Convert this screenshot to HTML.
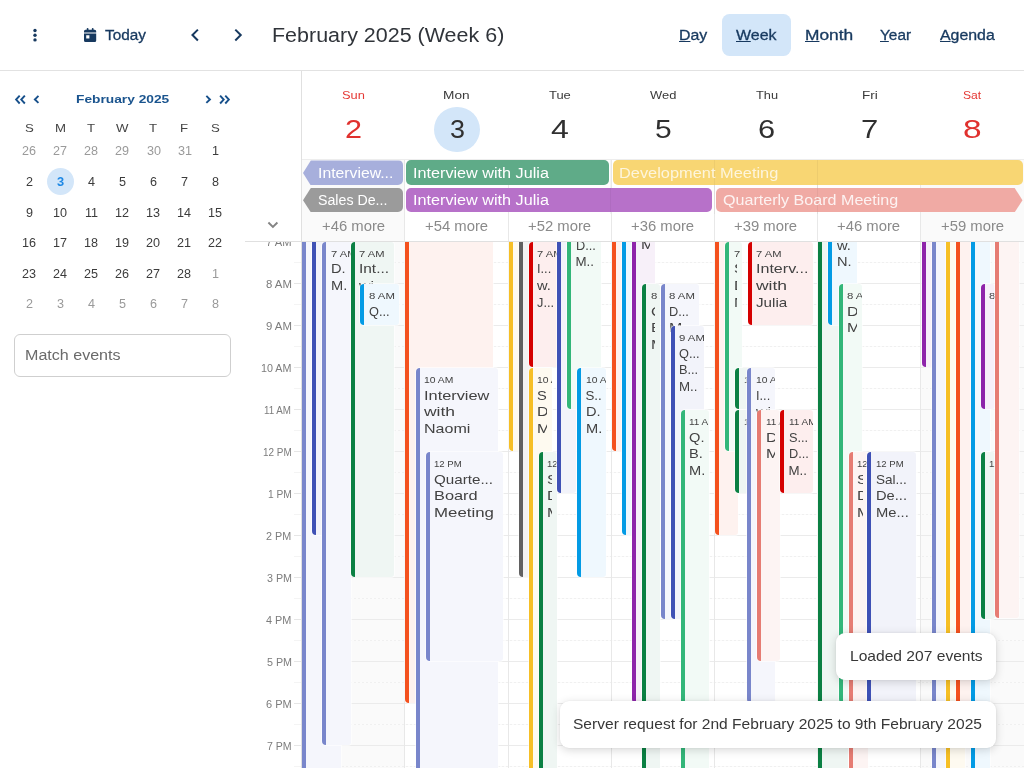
<!DOCTYPE html>
<html lang="en">
<head>
<meta charset="utf-8">
<title>Calendar</title>
<style>
*{box-sizing:border-box;margin:0;padding:0}
html,body{width:1024px;height:768px;overflow:hidden;background:#fff}
body{font-family:"Liberation Sans",sans-serif;color:#333;position:relative}
#root{position:absolute;left:0;top:0;width:1024px;height:768px;overflow:hidden;will-change:transform}
.abs{position:absolute}
.tx{position:absolute;white-space:nowrap;transform-origin:0 50%;display:block}
.tx u{text-decoration-thickness:1px;text-underline-offset:1.4px}
/* toolbar */
#tb{position:absolute;left:0;top:0;width:1024px;height:71px;border-bottom:1px solid #e2e2e2;background:#fff}
#weekpill{position:absolute;left:722px;top:14px;width:69.3px;height:41.8px;border-radius:7.5px;background:#d3e6f9}
/* sidebar */
#match{position:absolute;left:14px;top:334px;width:217px;height:42.5px;border:1px solid #cfcfcf;border-radius:6px}
/* all-day */
.ad{position:absolute;height:24.3px;border-radius:5px}
/* grid */
#grid{position:absolute;left:0;top:242px;width:1024px;height:526px;overflow:hidden}
#gridin{position:absolute;left:0;top:-242px;width:1024px;height:1100px}
.hl{position:absolute;left:302px;width:722px;height:1px;background:#ebebeb}
.hl.half{background:repeating-linear-gradient(90deg,#f0f0f0 0 2px,#fbfbfb 2px 4px)}
.vl{position:absolute;width:1px;background:#e8e8e8}
.tick{position:absolute;left:294px;width:7px;height:1px;background:#e6e6e6}
.shade{position:absolute;background:#fafafa}
.ev{position:absolute;border-left:4px solid #000;overflow:hidden;box-shadow:0 0 0 1px rgba(255,255,255,.6)}
.nm{position:absolute;left:0;top:0;bottom:0;right:4.75px;overflow:hidden}
.toast{position:absolute;background:#fff;border-radius:9px;box-shadow:0 2px 10px rgba(0,0,0,.16),0 0 2px rgba(0,0,0,.08)}
</style>
</head>
<body>
<div id="root">

<!-- shading for weekend columns -->
<div class="shade" style="left:302px;top:159px;width:103px;height:609px"></div>
<div class="shade" style="left:920px;top:159px;width:104px;height:609px"></div>

<!-- scrolling grid -->
<div id="grid"><div id="gridin">
<div class="hl half" style="top:262px"></div>
<div class="hl" style="top:283px"></div>
<div class="hl half" style="top:304px"></div>
<div class="hl" style="top:325px"></div>
<div class="hl half" style="top:346px"></div>
<div class="hl" style="top:367px"></div>
<div class="hl half" style="top:388px"></div>
<div class="hl" style="top:409px"></div>
<div class="hl half" style="top:430px"></div>
<div class="hl" style="top:451px"></div>
<div class="hl half" style="top:472px"></div>
<div class="hl" style="top:493px"></div>
<div class="hl half" style="top:514px"></div>
<div class="hl" style="top:535px"></div>
<div class="hl half" style="top:556px"></div>
<div class="hl" style="top:577px"></div>
<div class="hl half" style="top:598px"></div>
<div class="hl" style="top:619px"></div>
<div class="hl half" style="top:640px"></div>
<div class="hl" style="top:661px"></div>
<div class="hl half" style="top:682px"></div>
<div class="hl" style="top:703px"></div>
<div class="hl half" style="top:724px"></div>
<div class="hl" style="top:745px"></div>
<div class="hl half" style="top:766px"></div>
<div class="vl" style="left:404px;top:242px;height:700px"></div>
<div class="vl" style="left:508px;top:242px;height:700px"></div>
<div class="vl" style="left:611px;top:242px;height:700px"></div>
<div class="vl" style="left:714px;top:242px;height:700px"></div>
<div class="vl" style="left:817px;top:242px;height:700px"></div>
<div class="vl" style="left:920px;top:242px;height:700px"></div>
<div class="ev" style="left:302px;top:200px;width:39px;height:600px;border-left-color:#7986cb;background:#f5f6fc;border-radius:0px 3px 3px 0px"></div>
<div class="ev" style="left:312px;top:200px;width:39px;height:335px;border-left-color:#3f51b5;background:#f2f3fa;border-radius:0px 3px 3px 4px"></div>
<div class="ev" style="left:322px;top:242px;width:29px;height:503px;border-left-color:#7986cb;background:#f5f6fc;border-radius:4px 3px 3px 4px"><span class="tx" style="left:4.74px;top:6.00px;font-size:9.8px;line-height:11.76px;transform:scaleX(1.1404);color:#424242">7 AM</span><div class="nm"><span class="tx" style="left:4.50px;top:19.00px;font-size:13.3px;line-height:15.96px;transform:scaleX(1.1000);color:#424242">D.</span><span class="tx" style="left:4.50px;top:36.00px;font-size:13.3px;line-height:15.96px;transform:scaleX(1.1000);color:#424242">M.</span></div></div>
<div class="ev" style="left:350.5px;top:242px;width:43.5px;height:335px;border-left-color:#0b8043;background:#eff6f3;border-radius:4px 3px 3px 4px"><span class="tx" style="left:4.74px;top:6.00px;font-size:9.8px;line-height:11.76px;transform:scaleX(1.1404);color:#424242">7 AM</span><div class="nm"><span class="tx" style="left:4.50px;top:19.00px;font-size:13.3px;line-height:15.96px;transform:scaleX(1.1608);color:#424242">Int...</span><span class="tx" style="left:4.50px;top:36.00px;font-size:13.3px;line-height:15.96px;transform:scaleX(1.2000);color:#424242">wi</span></div></div>
<div class="ev" style="left:360px;top:284px;width:39px;height:41px;border-left-color:#039be5;background:#eff8fe;border-radius:4px 3px 3px 4px"><span class="tx" style="left:4.82px;top:6.00px;font-size:9.8px;line-height:11.76px;transform:scaleX(1.1601);color:#424242">8 AM</span><div class="nm"><span class="tx" style="left:4.50px;top:20.00px;font-size:13.3px;line-height:15.96px;transform:scaleX(0.9600);color:#424242">Q...</span></div></div>
<div class="ev" style="left:405px;top:200px;width:87.5px;height:503px;border-left-color:#f4511e;background:#fef2ef;border-radius:0px 3px 3px 4px"></div>
<div class="ev" style="left:415.5px;top:368px;width:82px;height:432px;border-left-color:#7986cb;background:#f5f6fc;border-radius:4px 3px 3px 0px"><span class="tx" style="left:4.52px;top:6.00px;font-size:9.8px;line-height:11.76px;transform:scaleX(1.0566);color:#424242">10 AM</span><div class="nm"><span class="tx" style="left:4.50px;top:20.00px;font-size:13.3px;line-height:15.96px;transform:scaleX(1.2291);color:#424242">Interview</span><span class="tx" style="left:4.50px;top:36.00px;font-size:13.3px;line-height:15.96px;transform:scaleX(1.3133);color:#424242">with</span><span class="tx" style="left:4.50px;top:53.00px;font-size:13.3px;line-height:15.96px;transform:scaleX(1.2063);color:#424242">Naomi</span></div></div>
<div class="ev" style="left:425.5px;top:452px;width:77px;height:209px;border-left-color:#7986cb;background:#f5f6fc;border-radius:4px 3px 3px 4px"><span class="tx" style="left:4.58px;top:6.00px;font-size:9.8px;line-height:11.76px;transform:scaleX(0.9794);color:#424242">12 PM</span><div class="nm"><span class="tx" style="left:4.50px;top:20.00px;font-size:13.3px;line-height:15.96px;transform:scaleX(1.1413);color:#424242">Quarte...</span><span class="tx" style="left:4.50px;top:36.00px;font-size:13.3px;line-height:15.96px;transform:scaleX(1.2283);color:#424242">Board</span><span class="tx" style="left:4.50px;top:53.00px;font-size:13.3px;line-height:15.96px;transform:scaleX(1.2660);color:#424242">Meeting</span></div></div>
<div class="ev" style="left:508.5px;top:200px;width:38.5px;height:250.5px;border-left-color:#f6bf26;background:#fefaf0;border-radius:0px 3px 3px 4px"></div>
<div class="ev" style="left:518.5px;top:200px;width:33.5px;height:377px;border-left-color:#616161;background:#f3f3f3;border-radius:0px 3px 3px 4px"></div>
<div class="ev" style="left:528.5px;top:242px;width:33.5px;height:125px;border-left-color:#d50000;background:#fdeeee;border-radius:4px 3px 3px 4px"><span class="tx" style="left:4.74px;top:6.00px;font-size:9.8px;line-height:11.76px;transform:scaleX(1.1404);color:#424242">7 AM</span><div class="nm"><span class="tx" style="left:4.50px;top:19.00px;font-size:13.3px;line-height:15.96px;transform:scaleX(0.9600);color:#424242">I...</span><span class="tx" style="left:4.50px;top:36.00px;font-size:13.3px;line-height:15.96px;transform:scaleX(1.1000);color:#424242">w.</span><span class="tx" style="left:4.50px;top:53.00px;font-size:13.3px;line-height:15.96px;transform:scaleX(0.9600);color:#424242">J...</span></div></div>
<div class="ev" style="left:528.5px;top:368px;width:23.5px;height:432px;border-left-color:#f6bf26;background:#fefaf0;border-radius:4px 3px 3px 0px"><span class="tx" style="left:4.52px;top:6.00px;font-size:9.8px;line-height:11.76px;transform:scaleX(1.0566);color:#424242">10 AM</span><div class="nm"><span class="tx" style="left:4.50px;top:20.00px;font-size:13.3px;line-height:15.96px;transform:scaleX(1.1000);color:#424242">S.</span><span class="tx" style="left:4.50px;top:36.00px;font-size:13.3px;line-height:15.96px;transform:scaleX(1.2000);color:#424242">D</span><span class="tx" style="left:4.50px;top:53.00px;font-size:13.3px;line-height:15.96px;transform:scaleX(1.2000);color:#424242">M</span></div></div>
<div class="ev" style="left:538.5px;top:452px;width:18.5px;height:348px;border-left-color:#0b8043;background:#eff6f3;border-radius:4px 3px 3px 0px"><span class="tx" style="left:4.58px;top:6.00px;font-size:9.8px;line-height:11.76px;transform:scaleX(0.9794);color:#424242">12 PM</span><div class="nm"><span class="tx" style="left:4.50px;top:20.00px;font-size:13.3px;line-height:15.96px;transform:scaleX(1.2000);color:#424242">S</span><span class="tx" style="left:4.50px;top:36.00px;font-size:13.3px;line-height:15.96px;transform:scaleX(1.2000);color:#424242">D</span><span class="tx" style="left:4.50px;top:53.00px;font-size:13.3px;line-height:15.96px;transform:scaleX(1.2000);color:#424242">M</span></div></div>
<div class="ev" style="left:557px;top:200px;width:19px;height:293px;border-left-color:#3f51b5;background:#f2f3fa;border-radius:0px 3px 3px 4px"></div>
<div class="ev" style="left:567px;top:200px;width:34px;height:209px;border-left-color:#33b679;background:#f2faf6;border-radius:0px 3px 3px 4px"><span class="tx" style="left:4.73px;top:8.00px;font-size:9.8px;line-height:11.76px;transform:scaleX(1.1641);color:#424242">6 AM</span><div class="nm"><span class="tx" style="left:4.50px;top:21.00px;font-size:13.3px;line-height:15.96px;transform:scaleX(0.9600);color:#424242">S...</span><span class="tx" style="left:4.50px;top:38.00px;font-size:13.3px;line-height:15.96px;transform:scaleX(0.9600);color:#424242">D...</span><span class="tx" style="left:4.50px;top:54.00px;font-size:13.3px;line-height:15.96px;transform:scaleX(1.0000);color:#424242">M..</span></div></div>
<div class="ev" style="left:577px;top:368px;width:29px;height:209px;border-left-color:#039be5;background:#eff8fe;border-radius:4px 3px 3px 4px"><span class="tx" style="left:4.52px;top:6.00px;font-size:9.8px;line-height:11.76px;transform:scaleX(1.0566);color:#424242">10 AM</span><div class="nm"><span class="tx" style="left:4.50px;top:20.00px;font-size:13.3px;line-height:15.96px;transform:scaleX(1.0000);color:#424242">S..</span><span class="tx" style="left:4.50px;top:36.00px;font-size:13.3px;line-height:15.96px;transform:scaleX(1.1000);color:#424242">D.</span><span class="tx" style="left:4.50px;top:53.00px;font-size:13.3px;line-height:15.96px;transform:scaleX(1.1000);color:#424242">M.</span></div></div>
<div class="ev" style="left:612px;top:200px;width:28px;height:250.5px;border-left-color:#f4511e;background:#fef2ef;border-radius:0px 3px 3px 4px"></div>
<div class="ev" style="left:622px;top:200px;width:23px;height:335px;border-left-color:#039be5;background:#eff8fe;border-radius:0px 3px 3px 4px"></div>
<div class="ev" style="left:632px;top:200px;width:23px;height:503px;border-left-color:#8e24aa;background:#f7f0f9;border-radius:0px 3px 3px 4px"><span class="tx" style="left:4.73px;top:7.00px;font-size:9.8px;line-height:11.76px;transform:scaleX(1.1641);color:#424242">6 AM</span><div class="nm"><span class="tx" style="left:4.50px;top:20.00px;font-size:13.3px;line-height:15.96px;transform:scaleX(1.2000);color:#424242">D</span><span class="tx" style="left:4.50px;top:37.00px;font-size:13.3px;line-height:15.96px;transform:scaleX(1.2000);color:#424242">M</span></div></div>
<div class="ev" style="left:642px;top:284px;width:18px;height:516px;border-left-color:#0b8043;background:#eff6f3;border-radius:4px 3px 3px 0px"><span class="tx" style="left:4.82px;top:6.00px;font-size:9.8px;line-height:11.76px;transform:scaleX(1.1601);color:#424242">8 AM</span><div class="nm"><span class="tx" style="left:4.50px;top:20.00px;font-size:13.3px;line-height:15.96px;transform:scaleX(1.2000);color:#424242">Q</span><span class="tx" style="left:4.50px;top:36.00px;font-size:13.3px;line-height:15.96px;transform:scaleX(1.2000);color:#424242">B</span><span class="tx" style="left:4.50px;top:53.00px;font-size:13.3px;line-height:15.96px;transform:scaleX(1.2000);color:#424242">M</span></div></div>
<div class="ev" style="left:660.5px;top:284px;width:38.5px;height:335px;border-left-color:#7986cb;background:#f5f6fc;border-radius:4px 3px 3px 4px"><span class="tx" style="left:4.82px;top:6.00px;font-size:9.8px;line-height:11.76px;transform:scaleX(1.1601);color:#424242">8 AM</span><div class="nm"><span class="tx" style="left:4.50px;top:20.00px;font-size:13.3px;line-height:15.96px;transform:scaleX(0.9600);color:#424242">D...</span><span class="tx" style="left:4.50px;top:36.00px;font-size:13.3px;line-height:15.96px;transform:scaleX(1.2000);color:#424242">M</span></div></div>
<div class="ev" style="left:670.5px;top:326px;width:33.5px;height:293px;border-left-color:#3f51b5;background:#f2f3fa;border-radius:4px 3px 3px 4px"><span class="tx" style="left:4.79px;top:6.00px;font-size:9.8px;line-height:11.76px;transform:scaleX(1.1614);color:#424242">9 AM</span><div class="nm"><span class="tx" style="left:4.50px;top:20.00px;font-size:13.3px;line-height:15.96px;transform:scaleX(0.9600);color:#424242">Q...</span><span class="tx" style="left:4.50px;top:36.00px;font-size:13.3px;line-height:15.96px;transform:scaleX(0.9600);color:#424242">B...</span><span class="tx" style="left:4.50px;top:53.00px;font-size:13.3px;line-height:15.96px;transform:scaleX(1.0000);color:#424242">M..</span></div></div>
<div class="ev" style="left:680.5px;top:410px;width:28.5px;height:390px;border-left-color:#33b679;background:#f2faf6;border-radius:4px 3px 3px 0px"><span class="tx" style="left:4.55px;top:6.00px;font-size:9.8px;line-height:11.76px;transform:scaleX(1.0184);color:#424242">11 AM</span><div class="nm"><span class="tx" style="left:4.50px;top:20.00px;font-size:13.3px;line-height:15.96px;transform:scaleX(1.1000);color:#424242">Q.</span><span class="tx" style="left:4.50px;top:36.00px;font-size:13.3px;line-height:15.96px;transform:scaleX(1.1000);color:#424242">B.</span><span class="tx" style="left:4.50px;top:53.00px;font-size:13.3px;line-height:15.96px;transform:scaleX(1.1000);color:#424242">M.</span></div></div>
<div class="ev" style="left:715px;top:200px;width:22.5px;height:335px;border-left-color:#f4511e;background:#fef2ef;border-radius:0px 3px 3px 4px"></div>
<div class="ev" style="left:725px;top:242px;width:17px;height:208.5px;border-left-color:#33b679;background:#f2faf6;border-radius:4px 3px 3px 4px"><span class="tx" style="left:4.74px;top:6.00px;font-size:9.8px;line-height:11.76px;transform:scaleX(1.1404);color:#424242">7 AM</span><div class="nm"><span class="tx" style="left:4.50px;top:19.00px;font-size:13.3px;line-height:15.96px;transform:scaleX(1.2000);color:#424242">S</span><span class="tx" style="left:4.50px;top:36.00px;font-size:13.3px;line-height:15.96px;transform:scaleX(1.2000);color:#424242">D</span><span class="tx" style="left:4.50px;top:53.00px;font-size:13.3px;line-height:15.96px;transform:scaleX(1.2000);color:#424242">M</span></div></div>
<div class="ev" style="left:735px;top:368px;width:17px;height:41px;border-left-color:#0b8043;background:#eff6f3;border-radius:4px 3px 3px 4px"><span class="tx" style="left:4.52px;top:6.00px;font-size:9.8px;line-height:11.76px;transform:scaleX(1.0566);color:#424242">10 AM</span></div>
<div class="ev" style="left:735px;top:410px;width:17px;height:82.5px;border-left-color:#0b8043;background:#eff6f3;border-radius:4px 3px 3px 4px"><span class="tx" style="left:4.55px;top:6.00px;font-size:9.8px;line-height:11.76px;transform:scaleX(1.0184);color:#424242">11 AM</span></div>
<div class="ev" style="left:747.5px;top:242px;width:65px;height:83px;border-left-color:#d50000;background:#fdeeee;border-radius:4px 3px 3px 4px"><span class="tx" style="left:4.74px;top:6.00px;font-size:9.8px;line-height:11.76px;transform:scaleX(1.1404);color:#424242">7 AM</span><div class="nm"><span class="tx" style="left:4.50px;top:19.00px;font-size:13.3px;line-height:15.96px;transform:scaleX(1.2084);color:#424242">Interv...</span><span class="tx" style="left:4.50px;top:36.00px;font-size:13.3px;line-height:15.96px;transform:scaleX(1.3133);color:#424242">with</span><span class="tx" style="left:4.50px;top:53.00px;font-size:13.3px;line-height:15.96px;transform:scaleX(1.1412);color:#424242">Julia</span></div></div>
<div class="ev" style="left:747px;top:368px;width:28px;height:335px;border-left-color:#7986cb;background:#f5f6fc;border-radius:4px 3px 3px 4px"><span class="tx" style="left:4.52px;top:6.00px;font-size:9.8px;line-height:11.76px;transform:scaleX(1.0566);color:#424242">10 AM</span><div class="nm"><span class="tx" style="left:4.50px;top:20.00px;font-size:13.3px;line-height:15.96px;transform:scaleX(0.9600);color:#424242">I...</span><span class="tx" style="left:4.50px;top:36.00px;font-size:13.3px;line-height:15.96px;transform:scaleX(1.2000);color:#424242">wi</span></div></div>
<div class="ev" style="left:757px;top:410px;width:23px;height:251px;border-left-color:#e67c73;background:#fdf4f3;border-radius:4px 3px 3px 4px"><span class="tx" style="left:4.55px;top:6.00px;font-size:9.8px;line-height:11.76px;transform:scaleX(1.0184);color:#424242">11 AM</span><div class="nm"><span class="tx" style="left:4.50px;top:20.00px;font-size:13.3px;line-height:15.96px;transform:scaleX(1.2000);color:#424242">D</span><span class="tx" style="left:4.50px;top:36.00px;font-size:13.3px;line-height:15.96px;transform:scaleX(1.2000);color:#424242">M</span></div></div>
<div class="ev" style="left:780px;top:410px;width:32.5px;height:82.5px;border-left-color:#d50000;background:#fdeeee;border-radius:4px 3px 3px 4px"><span class="tx" style="left:4.55px;top:6.00px;font-size:9.8px;line-height:11.76px;transform:scaleX(1.0184);color:#424242">11 AM</span><div class="nm"><span class="tx" style="left:4.50px;top:20.00px;font-size:13.3px;line-height:15.96px;transform:scaleX(0.9600);color:#424242">S...</span><span class="tx" style="left:4.50px;top:36.00px;font-size:13.3px;line-height:15.96px;transform:scaleX(0.9600);color:#424242">D...</span><span class="tx" style="left:4.50px;top:53.00px;font-size:13.3px;line-height:15.96px;transform:scaleX(1.0000);color:#424242">M..</span></div></div>
<div class="ev" style="left:818px;top:200px;width:30px;height:600px;border-left-color:#0b8043;background:#eff6f3;border-radius:0px 3px 3px 0px"></div>
<div class="ev" style="left:828px;top:200px;width:29px;height:125px;border-left-color:#039be5;background:#eff8fe;border-radius:0px 3px 3px 4px"><span class="tx" style="left:4.73px;top:8.00px;font-size:9.8px;line-height:11.76px;transform:scaleX(1.1641);color:#424242">6 AM</span><div class="nm"><span class="tx" style="left:4.50px;top:21.00px;font-size:13.3px;line-height:15.96px;transform:scaleX(0.9600);color:#424242">I...</span><span class="tx" style="left:4.50px;top:38.00px;font-size:13.3px;line-height:15.96px;transform:scaleX(1.1000);color:#424242">w.</span><span class="tx" style="left:4.50px;top:54.00px;font-size:13.3px;line-height:15.96px;transform:scaleX(1.1000);color:#424242">N.</span></div></div>
<div class="ev" style="left:838.5px;top:284px;width:23.5px;height:419px;border-left-color:#33b679;background:#f2faf6;border-radius:4px 3px 3px 4px"><span class="tx" style="left:4.82px;top:6.00px;font-size:9.8px;line-height:11.76px;transform:scaleX(1.1601);color:#424242">8 AM</span><div class="nm"><span class="tx" style="left:4.50px;top:20.00px;font-size:13.3px;line-height:15.96px;transform:scaleX(1.2000);color:#424242">D</span><span class="tx" style="left:4.50px;top:36.00px;font-size:13.3px;line-height:15.96px;transform:scaleX(1.2000);color:#424242">M</span></div></div>
<div class="ev" style="left:848.5px;top:452px;width:19px;height:348px;border-left-color:#e67c73;background:#fdf4f3;border-radius:4px 3px 3px 0px"><span class="tx" style="left:4.58px;top:6.00px;font-size:9.8px;line-height:11.76px;transform:scaleX(0.9794);color:#424242">12 PM</span><div class="nm"><span class="tx" style="left:4.50px;top:20.00px;font-size:13.3px;line-height:15.96px;transform:scaleX(1.2000);color:#424242">S</span><span class="tx" style="left:4.50px;top:36.00px;font-size:13.3px;line-height:15.96px;transform:scaleX(1.2000);color:#424242">D</span><span class="tx" style="left:4.50px;top:53.00px;font-size:13.3px;line-height:15.96px;transform:scaleX(1.2000);color:#424242">M</span></div></div>
<div class="ev" style="left:867px;top:452px;width:48.5px;height:293px;border-left-color:#3f51b5;background:#f2f3fa;border-radius:4px 3px 3px 4px"><span class="tx" style="left:4.58px;top:6.00px;font-size:9.8px;line-height:11.76px;transform:scaleX(0.9794);color:#424242">12 PM</span><div class="nm"><span class="tx" style="left:4.50px;top:20.00px;font-size:13.3px;line-height:15.96px;transform:scaleX(1.0177);color:#424242">Sal...</span><span class="tx" style="left:4.50px;top:36.00px;font-size:13.3px;line-height:15.96px;transform:scaleX(1.1031);color:#424242">De...</span><span class="tx" style="left:4.50px;top:53.00px;font-size:13.3px;line-height:15.96px;transform:scaleX(1.1081);color:#424242">Me...</span></div></div>
<div class="ev" style="left:921.5px;top:200px;width:23.5px;height:167px;border-left-color:#8e24aa;background:#f7f0f9;border-radius:0px 3px 3px 4px"></div>
<div class="ev" style="left:931.5px;top:200px;width:23.5px;height:600px;border-left-color:#7986cb;background:#f5f6fc;border-radius:0px 3px 3px 0px"></div>
<div class="ev" style="left:946px;top:200px;width:19px;height:600px;border-left-color:#f6bf26;background:#fefaf0;border-radius:0px 3px 3px 0px"></div>
<div class="ev" style="left:956px;top:200px;width:24px;height:545px;border-left-color:#f4511e;background:#fef2ef;border-radius:0px 3px 3px 4px"></div>
<div class="ev" style="left:970.5px;top:200px;width:19px;height:600px;border-left-color:#039be5;background:#eff8fe;border-radius:0px 3px 3px 0px"></div>
<div class="ev" style="left:980.5px;top:284px;width:14px;height:124.5px;border-left-color:#8e24aa;background:#f7f0f9;border-radius:4px 3px 3px 4px"><span class="tx" style="left:4.82px;top:6.00px;font-size:9.8px;line-height:11.76px;transform:scaleX(1.1601);color:#424242">8 AM</span></div>
<div class="ev" style="left:980.5px;top:452px;width:14px;height:166.5px;border-left-color:#0b8043;background:#eff6f3;border-radius:4px 3px 3px 4px"><span class="tx" style="left:4.58px;top:6.00px;font-size:9.8px;line-height:11.76px;transform:scaleX(0.9794);color:#424242">12 PM</span></div>
<div class="ev" style="left:994.5px;top:200px;width:24.5px;height:418px;border-left-color:#e67c73;background:#fdf4f3;border-radius:0px 3px 3px 4px"></div>
</div></div>

<!-- time axis -->
<div class="abs" style="left:245px;top:242px;width:56px;height:526px;overflow:hidden"><div class="abs" style="left:-245px;top:-242px;width:400px;height:1100px">
<span class="tx" style="left:266.14px;top:237.00px;font-size:10px;line-height:12px;transform:scaleX(1.1176);color:#7c7c7c">7 AM</span>
<div class="tick" style="top:241px"></div>
<div class="tick" style="top:262px;background:#f4f4f4"></div>
<span class="tx" style="left:265.72px;top:279.00px;font-size:10px;line-height:12px;transform:scaleX(1.1369);color:#7c7c7c">8 AM</span>
<div class="tick" style="top:283px"></div>
<div class="tick" style="top:304px;background:#f4f4f4"></div>
<span class="tx" style="left:265.69px;top:321.00px;font-size:10px;line-height:12px;transform:scaleX(1.1382);color:#7c7c7c">9 AM</span>
<div class="tick" style="top:325px"></div>
<div class="tick" style="top:346px;background:#f4f4f4"></div>
<span class="tx" style="left:261.15px;top:363.00px;font-size:10px;line-height:12px;transform:scaleX(1.0728);color:#7c7c7c">10 AM</span>
<div class="tick" style="top:367px"></div>
<div class="tick" style="top:388px;background:#f4f4f4"></div>
<span class="tx" style="left:264.47px;top:405.00px;font-size:10px;line-height:12px;transform:scaleX(0.9789);color:#7c7c7c">11 AM</span>
<div class="tick" style="top:409px"></div>
<div class="tick" style="top:430px;background:#f4f4f4"></div>
<span class="tx" style="left:262.70px;top:447.00px;font-size:10px;line-height:12px;transform:scaleX(0.9963);color:#7c7c7c">12 PM</span>
<div class="tick" style="top:451px"></div>
<div class="tick" style="top:472px;background:#f4f4f4"></div>
<span class="tx" style="left:267.68px;top:489.00px;font-size:10px;line-height:12px;transform:scaleX(1.0218);color:#7c7c7c">1 PM</span>
<div class="tick" style="top:493px"></div>
<div class="tick" style="top:514px;background:#f4f4f4"></div>
<span class="tx" style="left:266.41px;top:531.00px;font-size:10px;line-height:12px;transform:scaleX(1.0783);color:#7c7c7c">2 PM</span>
<div class="tick" style="top:535px"></div>
<div class="tick" style="top:556px;background:#f4f4f4"></div>
<span class="tx" style="left:266.55px;top:573.00px;font-size:10px;line-height:12px;transform:scaleX(1.0722);color:#7c7c7c">3 PM</span>
<div class="tick" style="top:577px"></div>
<div class="tick" style="top:598px;background:#f4f4f4"></div>
<span class="tx" style="left:266.21px;top:615.00px;font-size:10px;line-height:12px;transform:scaleX(1.0874);color:#7c7c7c">4 PM</span>
<div class="tick" style="top:619px"></div>
<div class="tick" style="top:640px;background:#f4f4f4"></div>
<span class="tx" style="left:266.52px;top:657.00px;font-size:10px;line-height:12px;transform:scaleX(1.0734);color:#7c7c7c">5 PM</span>
<div class="tick" style="top:661px"></div>
<div class="tick" style="top:682px;background:#f4f4f4"></div>
<span class="tx" style="left:265.90px;top:699.00px;font-size:10px;line-height:12px;transform:scaleX(1.1010);color:#7c7c7c">6 PM</span>
<div class="tick" style="top:703px"></div>
<div class="tick" style="top:724px;background:#f4f4f4"></div>
<span class="tx" style="left:266.92px;top:741.00px;font-size:10px;line-height:12px;transform:scaleX(1.0556);color:#7c7c7c">7 PM</span>
<div class="tick" style="top:745px"></div>
<div class="tick" style="top:766px;background:#f4f4f4"></div>
</div></div>

<div class="vl" style="left:404px;top:159px;height:83px"></div>
<div class="vl" style="left:508px;top:159px;height:83px"></div>
<div class="vl" style="left:611px;top:159px;height:83px"></div>
<div class="vl" style="left:714px;top:159px;height:83px"></div>
<div class="vl" style="left:817px;top:159px;height:83px"></div>
<div class="vl" style="left:920px;top:159px;height:83px"></div>
<div class="abs" style="left:301px;top:71px;width:1px;height:697px;background:#e0e0e0"></div>
<div class="abs" style="left:245px;top:241px;width:779px;height:1px;background:#e0e0e0"></div>

<!-- toolbar -->
<div id="tb">
  <svg class="abs" style="left:31px;top:27px" width="8" height="16" viewBox="0 0 8 16"><circle cx="4" cy="3.500" r="1.700" fill="#17395f"/><circle cx="4" cy="8.250" r="1.700" fill="#17395f"/><circle cx="4" cy="12.900" r="1.700" fill="#17395f"/></svg>
  <svg class="abs" style="left:84px;top:28px" width="13" height="15" viewBox="0 0 13 15"><path fill="#17395f" fill-rule="evenodd" d="M2.700 .9a.9 .9 0 0 1 1.800 0v.9h3.300v-.9a.9 .9 0 0 1 1.800 0v.9h1.100a1.500 1.500 0 0 1 1.500 1.500v1.300h-12.200v-1.300a1.500 1.500 0 0 1 1.500-1.500h1.200zM0 5.600h12.200v7a1.500 1.500 0 0 1-1.500 1.500h-9.200a1.500 1.500 0 0 1-1.500-1.500zM2.200 7.200v3.300h3.200v-3.300z"/></svg>
  <svg class="abs" style="left:189px;top:27px" width="12" height="16" viewBox="0 0 12 16"><path d="M8.900 2.650 3.450 8.050l5.450 5.400" fill="none" stroke="#17395f" stroke-width="2" stroke-linejoin="miter"/></svg>
  <svg class="abs" style="left:232px;top:27px" width="12" height="16" viewBox="0 0 12 16"><path d="M3.300 2.650 8.750 8.050l-5.450 5.400" fill="none" stroke="#17395f" stroke-width="2" stroke-linejoin="miter"/></svg>
  <div id="weekpill"></div>
<span class="tx" style="left:104.69px;top:28.00px;font-size:13.8px;line-height:16.56px;transform:scaleX(1.1112);color:#17395f;-webkit-text-stroke:0.3px #17395f">Today</span>
<span class="tx" style="left:271.78px;top:24.00px;font-size:19.3px;line-height:23.16px;transform:scaleX(1.1134);color:#30343a">February 2025 (Week 6)</span>
<span class="tx" style="left:678.98px;top:28.00px;font-size:13.8px;line-height:16.56px;transform:scaleX(1.1526);color:#17395f;-webkit-text-stroke:0.3px #17395f"><u>D</u>ay</span>
<span class="tx" style="left:736.46px;top:28.00px;font-size:13.8px;line-height:16.56px;transform:scaleX(1.1566);color:#17395f;-webkit-text-stroke:0.3px #17395f"><u>W</u>eek</span>
<span class="tx" style="left:804.51px;top:28.00px;font-size:13.8px;line-height:16.56px;transform:scaleX(1.2568);color:#17395f;-webkit-text-stroke:0.3px #17395f"><u>M</u>onth</span>
<span class="tx" style="left:880.09px;top:28.00px;font-size:13.8px;line-height:16.56px;transform:scaleX(1.1134);color:#17395f;-webkit-text-stroke:0.3px #17395f"><u>Y</u>ear</span>
<span class="tx" style="left:940.25px;top:28.00px;font-size:13.8px;line-height:16.56px;transform:scaleX(1.1500);color:#17395f;-webkit-text-stroke:0.3px #17395f"><u>A</u>genda</span>
</div>

<!-- sidebar -->
<svg class="abs" style="left:13px;top:93px" width="28" height="14" viewBox="0 0 28 14"><g fill="none" stroke="#17508b" stroke-width="1.900" stroke-linejoin="miter"><path d="M6.700 2.600 3.100 6.550l3.600 3.950"/><path d="M11.850 2.600 8.250 6.550l3.600 3.950"/><path d="M25.450 2.900 21.850 6.450l3.600 3.450"/></g></svg>
<svg class="abs" style="left:203px;top:93px" width="30" height="14" viewBox="0 0 30 14"><g fill="none" stroke="#17508b" stroke-width="1.900" stroke-linejoin="miter"><path d="M3.350 2.900 6.950 6.450l-3.600 3.450"/><path d="M17.100 2.600 20.700 6.550l-3.600 3.950"/><path d="M22.250 2.600 25.850 6.550l-3.600 3.950"/></g></svg>
<span class="tx" style="left:25.09px;top:121.00px;font-size:11.8px;line-height:14.16px;transform:scaleX(1.1200);color:#444">S</span>
<span class="tx" style="left:55.00px;top:121.00px;font-size:11.8px;line-height:14.16px;transform:scaleX(1.1200);color:#444">M</span>
<span class="tx" style="left:87.47px;top:121.00px;font-size:11.8px;line-height:14.16px;transform:scaleX(1.1200);color:#444">T</span>
<span class="tx" style="left:116.26px;top:121.00px;font-size:11.8px;line-height:14.16px;transform:scaleX(1.1200);color:#444">W</span>
<span class="tx" style="left:149.47px;top:121.00px;font-size:11.8px;line-height:14.16px;transform:scaleX(1.1200);color:#444">T</span>
<span class="tx" style="left:180.19px;top:121.00px;font-size:11.8px;line-height:14.16px;transform:scaleX(1.1200);color:#444">F</span>
<span class="tx" style="left:211.09px;top:121.00px;font-size:11.8px;line-height:14.16px;transform:scaleX(1.1200);color:#444">S</span>
<span class="tx" style="left:22.45px;top:144.00px;font-size:11.9px;line-height:14.28px;transform:scaleX(1.0600);color:#9a9a9a">26</span>
<span class="tx" style="left:53.48px;top:144.00px;font-size:11.9px;line-height:14.28px;transform:scaleX(1.0600);color:#9a9a9a">27</span>
<span class="tx" style="left:84.44px;top:144.00px;font-size:11.9px;line-height:14.28px;transform:scaleX(1.0600);color:#9a9a9a">28</span>
<span class="tx" style="left:115.47px;top:144.00px;font-size:11.9px;line-height:14.28px;transform:scaleX(1.0600);color:#9a9a9a">29</span>
<span class="tx" style="left:146.50px;top:144.00px;font-size:11.9px;line-height:14.28px;transform:scaleX(1.0600);color:#9a9a9a">30</span>
<span class="tx" style="left:177.56px;top:144.00px;font-size:11.9px;line-height:14.28px;transform:scaleX(1.0600);color:#9a9a9a">31</span>
<span class="tx" style="left:211.83px;top:144.00px;font-size:11.9px;line-height:14.28px;transform:scaleX(1.0600);color:#3c3c3c">1</span>
<span class="tx" style="left:25.98px;top:175.00px;font-size:11.9px;line-height:14.28px;transform:scaleX(1.0600);color:#3c3c3c">2</span>
<div class="abs" style="left:47px;top:168.25px;width:27px;height:27px;border-radius:50%;background:#d3e6f9"></div>
<span class="tx" style="left:57.00px;top:175.00px;font-size:11.9px;line-height:14.28px;transform:scaleX(1.0800);color:#1e88e5;font-weight:bold">3</span>
<span class="tx" style="left:88.03px;top:175.00px;font-size:11.9px;line-height:14.28px;transform:scaleX(1.0600);color:#3c3c3c">4</span>
<span class="tx" style="left:119.00px;top:175.00px;font-size:11.9px;line-height:14.28px;transform:scaleX(1.0600);color:#3c3c3c">5</span>
<span class="tx" style="left:149.95px;top:175.00px;font-size:11.9px;line-height:14.28px;transform:scaleX(1.0600);color:#3c3c3c">6</span>
<span class="tx" style="left:180.98px;top:175.00px;font-size:11.9px;line-height:14.28px;transform:scaleX(1.0600);color:#3c3c3c">7</span>
<span class="tx" style="left:211.98px;top:175.00px;font-size:11.9px;line-height:14.28px;transform:scaleX(1.0600);color:#3c3c3c">8</span>
<span class="tx" style="left:26.00px;top:206.00px;font-size:11.9px;line-height:14.28px;transform:scaleX(1.0600);color:#3c3c3c">9</span>
<span class="tx" style="left:53.26px;top:206.00px;font-size:11.9px;line-height:14.28px;transform:scaleX(1.0600);color:#3c3c3c">10</span>
<span class="tx" style="left:84.78px;top:206.00px;font-size:11.9px;line-height:14.28px;transform:scaleX(1.0600);color:#3c3c3c">11</span>
<span class="tx" style="left:115.33px;top:206.00px;font-size:11.9px;line-height:14.28px;transform:scaleX(1.0600);color:#3c3c3c">12</span>
<span class="tx" style="left:146.29px;top:206.00px;font-size:11.9px;line-height:14.28px;transform:scaleX(1.0600);color:#3c3c3c">13</span>
<span class="tx" style="left:177.20px;top:206.00px;font-size:11.9px;line-height:14.28px;transform:scaleX(1.0600);color:#3c3c3c">14</span>
<span class="tx" style="left:208.28px;top:206.00px;font-size:11.9px;line-height:14.28px;transform:scaleX(1.0600);color:#3c3c3c">15</span>
<span class="tx" style="left:22.29px;top:236.00px;font-size:11.9px;line-height:14.28px;transform:scaleX(1.0600);color:#3c3c3c">16</span>
<span class="tx" style="left:53.33px;top:236.00px;font-size:11.9px;line-height:14.28px;transform:scaleX(1.0600);color:#3c3c3c">17</span>
<span class="tx" style="left:84.28px;top:236.00px;font-size:11.9px;line-height:14.28px;transform:scaleX(1.0600);color:#3c3c3c">18</span>
<span class="tx" style="left:115.31px;top:236.00px;font-size:11.9px;line-height:14.28px;transform:scaleX(1.0600);color:#3c3c3c">19</span>
<span class="tx" style="left:146.42px;top:236.00px;font-size:11.9px;line-height:14.28px;transform:scaleX(1.0600);color:#3c3c3c">20</span>
<span class="tx" style="left:177.48px;top:236.00px;font-size:11.9px;line-height:14.28px;transform:scaleX(1.0600);color:#3c3c3c">21</span>
<span class="tx" style="left:208.48px;top:236.00px;font-size:11.9px;line-height:14.28px;transform:scaleX(1.0600);color:#3c3c3c">22</span>
<span class="tx" style="left:22.45px;top:267.00px;font-size:11.9px;line-height:14.28px;transform:scaleX(1.0600);color:#3c3c3c">23</span>
<span class="tx" style="left:53.36px;top:267.00px;font-size:11.9px;line-height:14.28px;transform:scaleX(1.0600);color:#3c3c3c">24</span>
<span class="tx" style="left:84.44px;top:267.00px;font-size:11.9px;line-height:14.28px;transform:scaleX(1.0600);color:#3c3c3c">25</span>
<span class="tx" style="left:115.45px;top:267.00px;font-size:11.9px;line-height:14.28px;transform:scaleX(1.0600);color:#3c3c3c">26</span>
<span class="tx" style="left:146.48px;top:267.00px;font-size:11.9px;line-height:14.28px;transform:scaleX(1.0600);color:#3c3c3c">27</span>
<span class="tx" style="left:177.44px;top:267.00px;font-size:11.9px;line-height:14.28px;transform:scaleX(1.0600);color:#3c3c3c">28</span>
<span class="tx" style="left:211.83px;top:267.00px;font-size:11.9px;line-height:14.28px;transform:scaleX(1.0600);color:#9a9a9a">1</span>
<span class="tx" style="left:25.98px;top:297.00px;font-size:11.9px;line-height:14.28px;transform:scaleX(1.0600);color:#9a9a9a">2</span>
<span class="tx" style="left:57.03px;top:297.00px;font-size:11.9px;line-height:14.28px;transform:scaleX(1.0600);color:#9a9a9a">3</span>
<span class="tx" style="left:88.03px;top:297.00px;font-size:11.9px;line-height:14.28px;transform:scaleX(1.0600);color:#9a9a9a">4</span>
<span class="tx" style="left:119.00px;top:297.00px;font-size:11.9px;line-height:14.28px;transform:scaleX(1.0600);color:#9a9a9a">5</span>
<span class="tx" style="left:149.95px;top:297.00px;font-size:11.9px;line-height:14.28px;transform:scaleX(1.0600);color:#9a9a9a">6</span>
<span class="tx" style="left:180.98px;top:297.00px;font-size:11.9px;line-height:14.28px;transform:scaleX(1.0600);color:#9a9a9a">7</span>
<span class="tx" style="left:211.98px;top:297.00px;font-size:11.9px;line-height:14.28px;transform:scaleX(1.0600);color:#9a9a9a">8</span>
<div id="match"></div>
<span class="tx" style="left:76.01px;top:92.00px;font-size:11.6px;line-height:13.92px;transform:scaleX(1.1855);color:#1a548e;font-weight:bold">February 2025</span>
<span class="tx" style="left:25.31px;top:348.00px;font-size:13.8px;line-height:16.56px;transform:scaleX(1.1641);color:#6a6a6a">Match events</span>

<!-- day headers -->
<span class="tx" style="left:342.44px;top:89.00px;font-size:10.9px;line-height:13.08px;transform:scaleX(1.1811);color:#e53935">Sun</span>
<span class="tx" style="left:345.24px;top:114.00px;font-size:25.6px;line-height:30.72px;transform:scaleX(1.1954);color:#e0312e">2</span>
<div class="abs" style="left:434px;top:106.5px;width:45.5px;height:45.5px;border-radius:50%;background:#d3e6f9"></div>
<span class="tx" style="left:443.47px;top:89.00px;font-size:10.9px;line-height:13.08px;transform:scaleX(1.2572);color:#3a3a3a">Mon</span>
<span class="tx" style="left:449.50px;top:114.00px;font-size:25.6px;line-height:30.72px;transform:scaleX(1.0526);color:#303030">3</span>
<span class="tx" style="left:549.30px;top:89.00px;font-size:10.9px;line-height:13.08px;transform:scaleX(1.1874);color:#3a3a3a">Tue</span>
<span class="tx" style="left:551.24px;top:114.00px;font-size:25.6px;line-height:30.72px;transform:scaleX(1.2531);color:#303030">4</span>
<span class="tx" style="left:650.42px;top:89.00px;font-size:10.9px;line-height:13.08px;transform:scaleX(1.1860);color:#3a3a3a">Wed</span>
<span class="tx" style="left:654.88px;top:114.00px;font-size:25.6px;line-height:30.72px;transform:scaleX(1.1719);color:#303030">5</span>
<span class="tx" style="left:755.59px;top:89.00px;font-size:10.9px;line-height:13.08px;transform:scaleX(1.1766);color:#3a3a3a">Thu</span>
<span class="tx" style="left:757.68px;top:114.00px;font-size:25.6px;line-height:30.72px;transform:scaleX(1.2035);color:#303030">6</span>
<span class="tx" style="left:861.50px;top:89.00px;font-size:10.9px;line-height:13.08px;transform:scaleX(1.2412);color:#3a3a3a">Fri</span>
<span class="tx" style="left:860.83px;top:114.00px;font-size:25.6px;line-height:30.72px;transform:scaleX(1.2124);color:#303030">7</span>
<span class="tx" style="left:963.28px;top:89.00px;font-size:10.9px;line-height:13.08px;transform:scaleX(1.1136);color:#e53935">Sat</span>
<span class="tx" style="left:963.31px;top:114.00px;font-size:25.6px;line-height:30.72px;transform:scaleX(1.3062);color:#e0312e">8</span>

<!-- all day events -->
<div class="abs" style="left:302px;top:159px;width:722px;height:1px;background:#ededed"></div>
<div class="ad" style="left:303px;top:160.4px;height:25px;width:100px;background:#a7afdc;clip-path:polygon(0 50%,7.800px 0,100% 0,100% 100%,7.800px 100%)"></div>
<div class="ad" style="left:303px;top:188px;width:100px;background:#9b9b9b;clip-path:polygon(0 50%,7.800px 0,100% 0,100% 100%,7.800px 100%)"></div>
<div class="ad" style="left:406.400px;top:160.4px;height:25px;width:203.100px;background:#5fab88"></div>
<div class="ad" style="left:406.400px;top:188px;width:305.600px;background:#b771c9"></div>
<div class="ad" style="left:613px;top:160.4px;height:25px;width:409.500px;background:#f8d673"></div>
<div class="ad" style="left:716px;top:188px;width:306.500px;background:#f0aaa4;clip-path:polygon(0 0,calc(100% - 7.800px) 0,100% 50%,calc(100% - 7.800px) 100%,0 100%)"></div>
<div class="abs" style="left:610px;top:160px;width:1px;height:54px;background:rgba(0,0,0,.045)"></div>
<div class="abs" style="left:714px;top:160px;width:1px;height:54px;background:rgba(0,0,0,.045)"></div>
<div class="abs" style="left:817px;top:160px;width:1px;height:54px;background:rgba(0,0,0,.045)"></div>
<span class="tx" style="left:318.08px;top:166.00px;font-size:13.8px;line-height:16.56px;transform:scaleX(1.1421);color:#fff">Interview...</span>
<span class="tx" style="left:318.11px;top:193.00px;font-size:13.8px;line-height:16.56px;transform:scaleX(1.0287);color:#fff">Sales De...</span>
<span class="tx" style="left:412.79px;top:166.00px;font-size:13.8px;line-height:16.56px;transform:scaleX(1.1736);color:#fff">Interview with Julia</span>
<span class="tx" style="left:412.79px;top:193.00px;font-size:13.8px;line-height:16.56px;transform:scaleX(1.1736);color:#fff">Interview with Julia</span>
<span class="tx" style="left:619.19px;top:166.00px;font-size:13.8px;line-height:16.56px;transform:scaleX(1.1869);color:rgba(255,255,255,.75)">Development Meeting</span>
<span class="tx" style="left:722.78px;top:193.00px;font-size:13.8px;line-height:16.56px;transform:scaleX(1.1657);color:rgba(255,255,255,.85)">Quarterly Board Meeting</span>
<span class="tx" style="left:321.67px;top:219.00px;font-size:13.8px;line-height:16.56px;transform:scaleX(1.0759);color:#8a8a8a">+46 more</span>
<span class="tx" style="left:424.81px;top:219.00px;font-size:13.8px;line-height:16.56px;transform:scaleX(1.0759);color:#8a8a8a">+54 more</span>
<span class="tx" style="left:527.95px;top:219.00px;font-size:13.8px;line-height:16.56px;transform:scaleX(1.0759);color:#8a8a8a">+52 more</span>
<span class="tx" style="left:631.09px;top:219.00px;font-size:13.8px;line-height:16.56px;transform:scaleX(1.0759);color:#8a8a8a">+36 more</span>
<span class="tx" style="left:734.24px;top:219.00px;font-size:13.8px;line-height:16.56px;transform:scaleX(1.0759);color:#8a8a8a">+39 more</span>
<span class="tx" style="left:837.38px;top:219.00px;font-size:13.8px;line-height:16.56px;transform:scaleX(1.0759);color:#8a8a8a">+46 more</span>
<span class="tx" style="left:940.52px;top:219.00px;font-size:13.8px;line-height:16.56px;transform:scaleX(1.0759);color:#8a8a8a">+59 more</span>
<svg class="abs" style="left:266px;top:219px" width="14" height="12" viewBox="0 0 14 12"><path d="M2.400 3.500 6.900 8l4.500-4.500" fill="none" stroke="#848484" stroke-width="1.900" stroke-linejoin="miter"/></svg>

<!-- toasts -->
<div class="toast" style="left:836px;top:633px;width:160px;height:46.500px"></div>
<div class="toast" style="left:560px;top:701px;width:436px;height:47px"></div>
<span class="tx" style="left:849.75px;top:648.00px;font-size:14.2px;line-height:17.04px;transform:scaleX(1.0992);color:#383838">Loaded 207 events</span>
<span class="tx" style="left:573.30px;top:716.00px;font-size:14.2px;line-height:17.04px;transform:scaleX(1.0963);color:#383838">Server request for 2nd February 2025 to 9th February 2025</span>

</div>
</body>
</html>
